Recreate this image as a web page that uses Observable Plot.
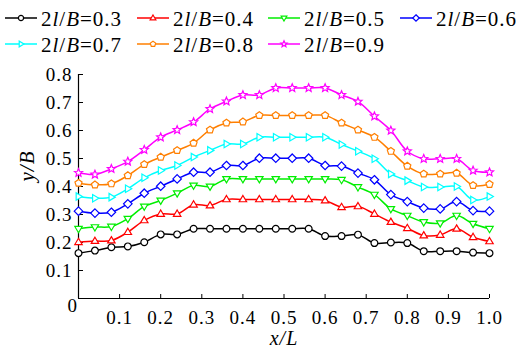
<!DOCTYPE html>
<html><head><meta charset="utf-8">
<script src="https://cdn.jsdelivr.net/npm/d3@7"></script>
<script src="https://cdn.jsdelivr.net/npm/@observablehq/plot@0.6"></script>
<style>
body{margin:0;background:#fff;font-family:'Liberation Serif',serif;}
svg{display:block;}
#chart svg, #chart svg text, #legend svg text{font-family:'Liberation Serif',serif;}
</style></head><body>
<div id="legend"></div><div id="chart"></div>
<script>
const xL = [0,0.04,0.08,0.12,0.16,0.2,0.24,0.28,0.32,0.36,0.4,0.44,0.48,0.52,0.56,0.6,0.64,0.68,0.72,0.76,0.8,0.84,0.88,0.92,0.96,1.0];
const ratios = ["0.3","0.4","0.5","0.6","0.7","0.8","0.9"];
const y03 = [0.162,0.171,0.183,0.186,0.201,0.229,0.229,0.249,0.249,0.249,0.249,0.249,0.249,0.249,0.249,0.223,0.223,0.228,0.198,0.200,0.198,0.169,0.169,0.169,0.164,0.162];
const y04 = [0.201,0.205,0.207,0.237,0.279,0.302,0.302,0.335,0.332,0.354,0.354,0.354,0.354,0.354,0.354,0.350,0.326,0.329,0.302,0.273,0.251,0.225,0.227,0.249,0.219,0.204];
const y05 = [0.249,0.255,0.257,0.285,0.329,0.350,0.376,0.404,0.400,0.427,0.427,0.427,0.427,0.427,0.427,0.427,0.424,0.398,0.371,0.320,0.296,0.273,0.269,0.296,0.267,0.249];
const y06 = [0.312,0.305,0.308,0.338,0.376,0.401,0.427,0.451,0.451,0.475,0.475,0.501,0.501,0.501,0.501,0.475,0.473,0.448,0.424,0.371,0.346,0.323,0.320,0.346,0.314,0.312];
const y07 = [0.364,0.358,0.362,0.392,0.431,0.457,0.475,0.505,0.529,0.552,0.552,0.576,0.576,0.576,0.576,0.576,0.550,0.526,0.499,0.445,0.421,0.398,0.398,0.400,0.352,0.364];
const y08 = [0.412,0.406,0.410,0.439,0.479,0.505,0.529,0.555,0.602,0.627,0.631,0.654,0.654,0.654,0.654,0.654,0.627,0.602,0.576,0.526,0.473,0.445,0.445,0.448,0.404,0.408];
const y09 = [0.449,0.443,0.463,0.489,0.531,0.576,0.602,0.630,0.677,0.704,0.727,0.727,0.752,0.752,0.752,0.752,0.727,0.703,0.651,0.600,0.526,0.499,0.499,0.499,0.457,0.451];
const xTicks = [0.1,0.2,0.3,0.4,0.5,0.6,0.7,0.8,0.9,1.0];
const yTicks = [0.1,0.2,0.3,0.4,0.5,0.6,0.7,0.8];
const colors = ["#000000","#ff0000","#00ee00","#0000ff","#00ffff","#ff7f00","#ff00ff"];
const FONT = "'Liberation Serif',serif";

// custom marker shapes (r derived from area)
const R = s => Math.sqrt(s / Math.PI);
const circle = {draw(c, s){ const r = R(s); c.moveTo(r, 0); c.arc(0, 0, r, 0, 2*Math.PI); }};
const triUp = {draw(c, s){ const r = R(s)*1.15; c.moveTo(0, -r); c.lineTo(r*0.95, r*0.6); c.lineTo(-r*0.95, r*0.6); c.closePath(); }};
const triDown = {draw(c, s){ const r = R(s)*1.15; c.moveTo(0, r); c.lineTo(r*0.95, -r*0.6); c.lineTo(-r*0.95, -r*0.6); c.closePath(); }};
const diamond = {draw(c, s){ const r = R(s)*1.25; c.moveTo(0, -r); c.lineTo(r, 0); c.lineTo(0, r); c.lineTo(-r, 0); c.closePath(); }};
const triRight = {draw(c, s){ const r = R(s)*1.15; c.moveTo(r, 0); c.lineTo(-r*0.6, r*0.95); c.lineTo(-r*0.6, -r*0.95); c.closePath(); }};
const pentagon = {draw(c, s){ const r = R(s)*1.1; for (let k = 0; k < 5; k++){ const a = -Math.PI/2 + k*2*Math.PI/5; const px = r*Math.cos(a), py = r*Math.sin(a); if (k) c.lineTo(px, py); else c.moveTo(px, py);} c.closePath(); }};
const star = {draw(c, s){ const r = R(s)*1.25, ri = r*0.45; for (let k = 0; k < 10; k++){ const a = -Math.PI/2 + k*Math.PI/5; const rr = k%2 ? ri : r; const px = rr*Math.cos(a), py = rr*Math.sin(a); if (k) c.lineTo(px, py); else c.moveTo(px, py);} c.closePath(); }};
const symbols = [circle, triUp, triDown, diamond, triRight, pentagon, star];
const series = [y03, y04, y05, y06, y07, y08, y09];

// legend
const lg = d3.select("#legend").append("svg").attr("width", 526).attr("height", 58);
const lx = [5,137,268,400,5,137,268], ly = [18,18,18,18,44,44,44];
ratios.forEach((r, i) => {
  const g = lg.append("g").attr("transform", `translate(${lx[i]},${ly[i]})`);
  g.append("line").attr("x1", 0).attr("x2", 32).attr("stroke", colors[i]).attr("stroke-width", 1.5);
  g.append("path").attr("transform", "translate(16,0)").attr("d", d3.symbol(symbols[i], Math.PI*2.6*2.6)())
    .attr("fill", "#fff").attr("stroke", colors[i]).attr("stroke-width", 1.2);
  const t = g.append("text").attr("x", 36).attr("y", 8).attr("font-size", 21).attr("letter-spacing", "1px")
    .attr("fill", "#000");
  t.append("tspan").text("2");
  t.append("tspan").attr("font-style", "italic").text("l");
  t.append("tspan").text("/");
  t.append("tspan").attr("font-style", "italic").text("B");
  t.append("tspan").text("=" + r);
});

const marks = [
  Plot.ruleY([0], {stroke: "#000", strokeWidth: 1.2}),
  Plot.ruleX([0], {stroke: "#000", strokeWidth: 1.2}),
  Plot.axisX({ticks: xTicks, tickSize: -4, tickPadding: 16, tickFormat: d => d.toFixed(1), label: null}),
  Plot.axisY({ticks: yTicks, tickSize: -5, tickPadding: 11, tickFormat: d => d.toFixed(1), label: null}),
  Plot.text(["0"], {frameAnchor: "bottom-left", dx: -11, dy: 13, fontSize: 19}),
  Plot.text(["x/L"], {frameAnchor: "bottom", dy: 46, fontSize: 20, fontStyle: "italic"}),
  Plot.text(["y/B"], {frameAnchor: "left", dx: -51, dy: -5, rotate: -90, fontSize: 21, fontStyle: "italic"})
];
series.forEach((s, i) => {
  const rows = s.map((v, j) => ({x: xL[j], y: v}));
  marks.push(Plot.line(rows, {x: "x", y: "y", stroke: colors[i], strokeWidth: 1.5, curve: "catmull-rom"}));
  marks.push(Plot.dot(rows, {x: "x", y: "y", symbol: symbols[i], r: 3.4, stroke: colors[i], fill: "#fff", strokeWidth: 1.2}));
});

const chart = Plot.plot({
  width: 526, height: 295,
  marginLeft: 78, marginRight: 37, marginTop: 16, marginBottom: 55,
  style: {fontFamily: FONT, fontSize: "19px", background: "#fff", color: "#000", letterSpacing: "1px", overflow: "visible"},
  x: {domain: [0, 1]},
  y: {domain: [0, 0.8]},
  marks
});
document.getElementById("chart").append(chart);
</script>
</body></html>
